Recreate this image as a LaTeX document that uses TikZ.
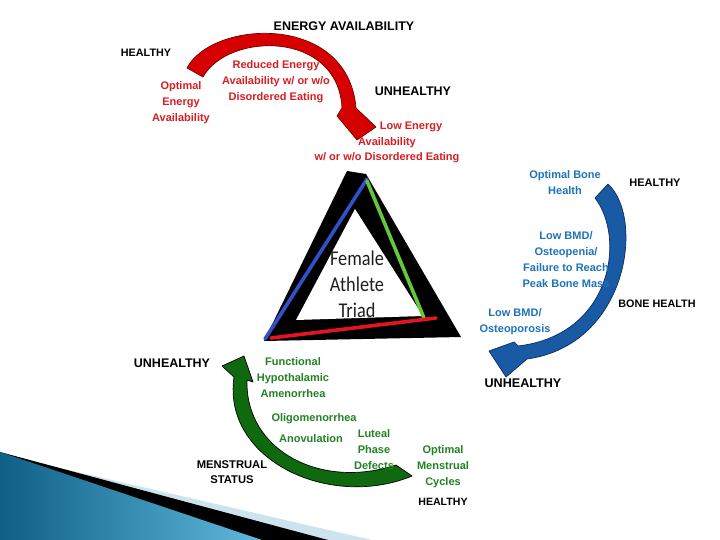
\documentclass[tikz,border=0pt]{standalone}
\usepackage{fontspec}
\setmainfont{Liberation Sans}
\newfontfamily\triadfont[FakeStretch=0.87]{Carlito}
\definecolor{redtext}{RGB}{215,30,35}
\definecolor{bluetext}{RGB}{30,115,185}
\definecolor{greentext}{RGB}{35,130,35}
\definecolor{redfill}{RGB}{215,0,0}
\definecolor{reddark}{RGB}{110,0,0}
\definecolor{bluefill}{RGB}{25,90,165}
\definecolor{bluedark}{RGB}{10,45,100}
\definecolor{greenfill}{RGB}{15,105,15}
\definecolor{triblue}{RGB}{50,80,200}
\definecolor{trigreen}{RGB}{100,200,60}
\definecolor{trired}{RGB}{230,20,30}
\definecolor{decodark}{RGB}{15,95,135}
\definecolor{decolight}{RGB}{95,185,220}
\definecolor{decoband}{RGB}{205,228,238}
\definecolor{triadgray}{RGB}{30,30,30}
\begin{document}
\begin{tikzpicture}[x=1pt,y=-1pt]
\tikzset{
  lab/.style={font=\bfseries\fontsize{11}{16}\selectfont, align=center, inner sep=0pt},
  blk/.style={lab, text=black},
  redt/.style={lab, text=redtext},
  bluet/.style={lab, text=bluetext},
  greent/.style={lab, text=greentext},
  arrowred/.style={fill=redfill, draw=reddark, line width=0.7pt, line join=round},
  arrowblue/.style={fill=bluefill, draw=bluedark, line width=0.7pt, line join=round},
  arrowgreen/.style={fill=greenfill, draw=black, line width=0.7pt, line join=round},
  triline/.style={line width=3.6pt, line cap=round}
}
\useasboundingbox (0,0) rectangle (720,540);
\fill[white] (0,0) rectangle (720,540);

% bottom-left decoration
\fill[decoband] (60,468) -- (372,540) -- (200,540) -- cycle;
\fill[black] (0,452) -- (328,540) -- (0,540) -- cycle;
\shade[left color=decodark, right color=decolight] (0,452) -- (262,540) -- (0,540) -- cycle;

% triangle
\fill[black] (347,171) -- (366,174) -- (461,337) -- (264,341) -- cycle;
\fill[white] (355,209) -- (423,316) -- (296,320) -- cycle;
\draw[triline, triblue] (265,339) -- (367,179);
\draw[triline, trigreen] (367,181) -- (424,318);
\draw[triline, trired] (271,338) -- (436,318);
\node[text=triadgray, font=\triadfont\fontsize{21}{26}\selectfont, align=center, inner sep=0pt] (triad) at (357,284) {Female\\Athlete\\Triad};

% red arrow
\path[arrowred] (187,68) .. controls (212,20) and (348,12) .. (356,108) -- (376,127) -- (357,140) -- (337,116) -- (342,108) .. controls (338,30) and (228,32) .. (203,77) -- cycle;
% blue arrow
\path[arrowblue] (608,184) .. controls (645,218) and (628,345) .. (527,359) -- (506,377) -- (489,351) -- (514,342) -- (518,346) .. controls (612,335) and (626,238) .. (595,198) -- cycle;
% green arrow
\path[arrowgreen] (412,476) .. controls (330,510) and (222,460) .. (234,377) -- (222,366) -- (244,356) -- (253,382) -- (247,380) .. controls (245,450) and (320,490) .. (396,465) -- cycle;

% black labels
\node[blk, font=\bfseries\fontsize{12.5}{15}\selectfont] (energy) at (344,26) {ENERGY AVAILABILITY};
\node[blk, font=\bfseries\fontsize{10.8}{15}\selectfont] (h1) at (146,53) {HEALTHY};
\node[blk, font=\bfseries\fontsize{12.5}{15}\selectfont] (u1) at (413,91) {UNHEALTHY};
\node[blk, font=\bfseries\fontsize{11}{15}\selectfont] (h2) at (655,183) {HEALTHY};
\node[blk, font=\bfseries\fontsize{10.8}{15}\selectfont] (bone) at (657,304) {BONE HEALTH};
\node[blk, font=\bfseries\fontsize{12.6}{15}\selectfont] (u2) at (523,383) {UNHEALTHY};
\node[blk, font=\bfseries\fontsize{12.5}{15}\selectfont] (u3) at (172,363) {UNHEALTHY};
\node[blk, font=\bfseries\fontsize{11.2}{15.5}\selectfont] (menst) at (232,472) {MENSTRUAL\\STATUS};
\node[blk, font=\bfseries\fontsize{10.6}{15}\selectfont] (h3) at (443,502) {HEALTHY};

% red texts
\node[redt] (optE) at (181,103) {Optimal\\Energy\\Availability};
\node[redt] (redE) at (276,82) {Reduced Energy\\Availability w/ or w/o\\Disordered Eating};
\node[redt] (lowE1) at (411,127) {Low Energy};
\node[redt] (lowE2) at (387,143) {Availability};
\node[redt] (lowE3) at (387,158) {w/ or w/o Disordered Eating};

% blue texts
\node[bluet] (optB) at (565,183) {Optimal Bone\\Health};
\node[bluet] (lowB) at (566,260) {Low BMD/\\Osteopenia/\\Failure to Reach\\Peak Bone Mass};
\node[bluet] (osteo) at (515,322) {Low BMD/\\Osteoporosis};

% green texts
\node[greent] (fha) at (293,378) {Functional\\Hypothalamic\\Amenorrhea};
\node[greent] (oligo) at (314,419) {Oligomenorrhea};
\node[greent] (anov) at (311,439) {Anovulation};
\node[greent] (luteal) at (374,450) {Luteal\\Phase\\Defects};
\node[greent] (optM) at (443,467) {Optimal\\Menstrual\\Cycles};
\end{tikzpicture}
\end{document}
